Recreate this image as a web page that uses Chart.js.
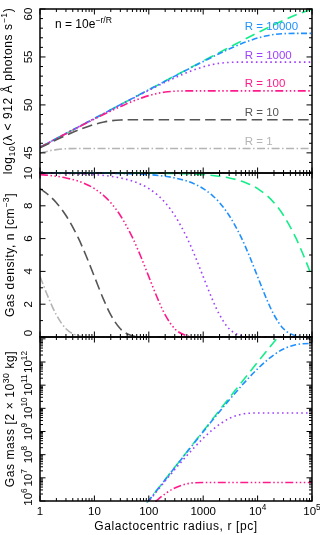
<!DOCTYPE html>
<html>
<head>
<meta charset="utf-8">
<script src="https://cdn.jsdelivr.net/npm/chart.js"></script>
<style>
  html, body { margin: 0; padding: 0; background: #fff; }
  #wrap { position: relative; width: 320px; height: 535px; overflow: hidden; }
  canvas { position: absolute; left: 0; }
</style>
</head>
<body>
<div id="wrap">
  <canvas id="photons" width="320" height="180" style="top:0"></canvas>
  <canvas id="density" width="320" height="178" style="top:166px"></canvas>
  <canvas id="mass" width="320" height="205" style="top:330px"></canvas>
</div>
<script>
// galactocentric radius, pc
const radius = [1, 1.5, 2, 3, 5, 7, 10, 15, 20, 30, 50, 70, 100, 150, 200, 300, 500, 700,
    1000, 1500, 2000, 3000, 5000, 7000, 1e4, 1.5e4, 2e4, 3e4, 5e4, 7e4, 1e5];

const scaleNames = ['R = 1', 'R = 10', 'R = 100', 'R = 1000', 'R = 10000', 'R = 100000'];

// log10 of ionising photons s^-1 enclosed within r
const photR1 = [44.97, 45.22, 45.34, 45.43, 45.46, 45.46, 45.46, 45.46, 45.46, 45.46, 45.46, 45.46,
    45.46, 45.46, 45.46, 45.46, 45.46, 45.46, 45.46, 45.46, 45.46, 45.46, 45.46, 45.46, 45.46, 45.46,
    45.46, 45.46, 45.46, 45.46, 45.46];
const photR10 = [45.52, 46.02, 46.36, 46.82, 47.37, 47.68, 47.97, 48.22, 48.34, 48.43, 48.46, 48.46,
    48.46, 48.46, 48.46, 48.46, 48.46, 48.46, 48.46, 48.46, 48.46, 48.46, 48.46, 48.46, 48.46, 48.46,
    48.46, 48.46, 48.46, 48.46, 48.46];
const photR100 = [45.58, 46.10, 46.48, 47.00, 47.65, 48.08, 48.52, 49.02, 49.36, 49.82, 50.37, 50.68,
    50.97, 51.22, 51.34, 51.43, 51.46, 51.46, 51.46, 51.46, 51.46, 51.46, 51.46, 51.46, 51.46, 51.46,
    51.46, 51.46, 51.46, 51.46, 51.46];
const photR1000 = [45.59, 46.11, 46.49, 47.02, 47.68, 48.12, 48.58, 49.10, 49.48, 50.00, 50.65, 51.08,
    51.52, 52.02, 52.36, 52.82, 53.37, 53.68, 53.97, 54.22, 54.34, 54.43, 54.46, 54.46, 54.46, 54.46,
    54.46, 54.46, 54.46, 54.46, 54.46];
const photR1e4 = [45.59, 46.11, 46.49, 47.02, 47.68, 48.12, 48.59, 49.11, 49.49, 50.02, 50.68, 51.12,
    51.58, 52.10, 52.48, 53.00, 53.65, 54.08, 54.52, 55.02, 55.36, 55.82, 56.37, 56.68, 56.97, 57.22,
    57.34, 57.43, 57.46, 57.46, 57.46];
const photR1e5 = [45.59, 46.11, 46.49, 47.02, 47.68, 48.12, 48.59, 49.11, 49.49, 50.02, 50.68, 51.12,
    51.59, 52.11, 52.49, 53.02, 53.68, 54.12, 54.58, 55.10, 55.48, 56.00, 56.65, 57.08, 57.52, 58.02,
    58.36, 58.82, 59.37, 59.68, 59.97];

// gas density, cm^-3
const densR1 = [3.68, 2.23, 1.35, 0.50, 0.07, 0.01, 0, 0, 0, 0, 0, 0, 0, 0, 0, 0, 0, 0, 0, 0, 0, 0,
    0, 0, 0, 0, 0, 0, 0, 0, 0];
const densR10 = [9.05, 8.61, 8.19, 7.41, 6.07, 4.97, 3.68, 2.23, 1.35, 0.50, 0.07, 0.01, 0, 0, 0, 0,
    0, 0, 0, 0, 0, 0, 0, 0, 0, 0, 0, 0, 0, 0, 0];
const densR100 = [9.90, 9.85, 9.80, 9.70, 9.51, 9.32, 9.05, 8.61, 8.19, 7.41, 6.07, 4.97, 3.68, 2.23,
    1.35, 0.50, 0.07, 0.01, 0, 0, 0, 0, 0, 0, 0, 0, 0, 0, 0, 0, 0];
const densR1000 = [9.99, 9.99, 9.98, 9.97, 9.95, 9.93, 9.90, 9.85, 9.80, 9.70, 9.51, 9.32, 9.05, 8.61,
    8.19, 7.41, 6.07, 4.97, 3.68, 2.23, 1.35, 0.50, 0.07, 0.01, 0, 0, 0, 0, 0, 0, 0];
const densR1e4 = [10, 10, 10, 10, 10, 10, 9.99, 9.99, 9.98, 9.97, 9.95, 9.93, 9.90, 9.85, 9.80, 9.70,
    9.51, 9.32, 9.05, 8.61, 8.19, 7.41, 6.07, 4.97, 3.68, 2.23, 1.35, 0.50, 0.07, 0.01, 0];
const densR1e5 = [10, 10, 10, 10, 10, 10, 10, 10, 10, 10, 10, 10, 9.99, 9.99, 9.98, 9.97, 9.95, 9.93,
    9.90, 9.85, 9.80, 9.70, 9.51, 9.32, 9.05, 8.61, 8.19, 7.41, 6.07, 4.97, 3.68];

// enclosed gas mass, units of 2e30 kg
const massR100 = [1.05, 3.5, 8.3, 27.8, 127, 343, 977, 3180, 7260, 2.28e4, 9.1e4, 2.16e5, 5.08e5,
    1.21e6, 2.05e6, 3.65e6, 5.53e6, 6.14e6, 6.31e6, 6.32e6, 6.32e6, 6.32e6, 6.32e6, 6.32e6, 6.32e6,
    6.32e6, 6.32e6, 6.32e6, 6.32e6, 6.32e6, 6.32e6];
const massR1000 = [1.05, 3.5, 8.4, 28.4, 131, 360, 1050, 3520, 8300, 2.78e4, 1.27e5, 3.43e5, 9.77e5,
    3.18e6, 7.26e6, 2.28e7, 9.1e7, 2.16e8, 5.08e8, 1.21e9, 2.05e9, 3.65e9, 5.53e9, 6.14e9, 6.31e9,
    6.32e9, 6.32e9, 6.32e9, 6.32e9, 6.32e9, 6.32e9];
const massR1e4 = [1.05, 3.56, 8.4, 28.4, 132, 361, 1050, 3520, 8400, 2.84e4, 1.31e5, 3.60e5, 1.05e6,
    3.52e6, 8.30e6, 2.78e7, 1.27e8, 3.43e8, 9.77e8, 3.18e9, 7.26e9, 2.28e10, 9.1e10, 2.16e11, 5.08e11,
    1.21e12, 2.05e12, 3.65e12, 5.53e12, 6.14e12, 6.31e12];
const massR1e5 = [1.05, 3.56, 8.43, 28.5, 132, 361, 1054, 3560, 8430, 2.85e4, 1.32e5, 3.61e5, 1.05e6,
    3.56e6, 8.4e6, 2.84e7, 1.32e8, 3.61e8, 1.05e9, 3.52e9, 8.40e9, 2.78e10, 1.27e11, 3.43e11, 9.77e11,
    3.18e12, 7.26e12, 2.28e13, 9.1e13, 2.16e14, 5.08e14];

// tick labels
const xTickValues = [1, 10, 100, 1000, 1e4, 1e5];
const xTickLabels = [[['1']], [['10']], [['100']], [['1000']], [['10'], ['4', 'sup']], [['10'], ['5', 'sup']]];
const photTicks = [45, 50, 55, 60];
const densTicks = [0, 2, 4, 6, 8, 10];
const massTicks = [1e6, 1e7, 1e8, 1e9, 1e10, 1e11, 1e12];
const massTickLabels = ['6', '7', '8', '9', '10', '11', '12'];

const styles = [
    { color: '#b4b4b4', dash: [8, 2.5, 1.5, 2.5] },
    { color: '#555555', dash: [10.5, 5] },
    { color: '#ff1a8c', dash: [8, 2.5, 1.5, 2.5, 1.5, 2.5, 1.5, 2.5] },
    { color: '#a040ff', dash: [1.6, 3.2] },
    { color: '#1e90ff', dash: [6, 2.5, 1.5, 2.5] },
    { color: '#14ee88', dash: [10, 5.5] },
];

const FONT = '"Liberation Sans", Arial, sans-serif';

function setFont(ctx, size) { ctx.font = size + 'px ' + FONT; }
function partSize(p, size) { return p[1] ? size * 0.72 : size; }

function richWidth(ctx, parts, size) {
    let w = 0;
    for (const p of parts) {
        setFont(ctx, partSize(p, size));
        w += ctx.measureText(p[0]).width;
    }
    return w;
}

function drawRich(ctx, parts, x, y, size, align) {
    let cx = align === 'center' ? x - richWidth(ctx, parts, size) / 2 : x;
    ctx.textBaseline = 'middle';
    ctx.textAlign = 'left';
    for (const p of parts) {
        setFont(ctx, partSize(p, size));
        const dy = p[1] === 'sup' ? -size * 0.4 : p[1] === 'sub' ? size * 0.3 : 0;
        ctx.fillText(p[0], cx, y + dy);
        cx += ctx.measureText(p[0]).width;
    }
}

function drawRotated(ctx, parts, x, y, size) {
    ctx.save();
    ctx.translate(x, y);
    ctx.rotate(-Math.PI / 2);
    drawRich(ctx, parts, 0, 0, size, 'center');
    ctx.restore();
}

// frame, inward ticks, rotated labels and titles, in the PGPLOT look
const framePlugin = {
    id: 'frame',
    afterDraw(chart, args, o) {
        const { ctx, chartArea: a } = chart;
        const xs = chart.scales.x, ys = chart.scales.y;
        ctx.save();
        ctx.strokeStyle = '#000';
        ctx.fillStyle = '#000';
        ctx.lineWidth = 1;
        ctx.beginPath();
        for (let d = 1; d <= 1e5; d *= 10) {
            for (let m = 1; m <= 9; m++) {
                const v = d * m;
                if (v > 1e5) break;
                const px = xs.getPixelForValue(v);
                const len = m === 1 ? 5.5 : 3;
                ctx.moveTo(px, a.top); ctx.lineTo(px, a.top + len);
                ctx.moveTo(px, a.bottom); ctx.lineTo(px, a.bottom - len);
            }
        }
        for (const t of o.yTicks) {
            const py = ys.getPixelForValue(t.v);
            if (py < a.top - 0.5 || py > a.bottom + 0.5) continue;
            const len = t.major ? 5.5 : 3;
            ctx.moveTo(a.left, py); ctx.lineTo(a.left + len, py);
            ctx.moveTo(a.right, py); ctx.lineTo(a.right - len, py);
        }
        ctx.stroke();
        ctx.lineWidth = 1.5;
        ctx.strokeRect(a.left, a.top, a.width, a.height);

        o.yLabels.forEach((l) => {
            let py = ys.getPixelForValue(l.v);
            py = Math.min(Math.max(py, a.top + (o.first ? 5 : -20)), a.bottom - 4);
            drawRotated(ctx, l.parts, 29, py, 11.5);
        });

        ctx.letterSpacing = '0.6px';
        drawRotated(ctx, o.title, o.titleX, (a.top + a.bottom) / 2, 12);
        ctx.letterSpacing = '0px';

        if (o.xLabels) {
            xTickValues.forEach((v, i) => {
                const px = xs.getPixelForValue(v);
                drawRich(ctx, xTickLabels[i], px, a.bottom + 11, 11.5, 'center');
            });
            ctx.letterSpacing = '0.6px';
            drawRich(ctx, [['Galactocentric radius, r [pc]']], (a.left + a.right) / 2, a.bottom + 26, 12, 'center');
            ctx.letterSpacing = '0px';
        }

        if (o.notes) {
            drawRich(ctx, [['n = 10e'], ['\u2212r/R', 'sup']], a.left + 15, a.top + 16, 12, 'left');
            o.notes.forEach((n) => {
                ctx.fillStyle = styles[n.i].color;
                drawRich(ctx, [[scaleNames[n.i]]], xs.getPixelForValue(5800), ys.getPixelForValue(n.y), 11.5, 'left');
            });
        }
        ctx.restore();
    },
};

function lineSets(series, idx) {
    return series.map((values, k) => ({
        data: radius.map((r, i) => ({ x: r, y: values[i] })),
        borderColor: styles[idx[k]].color,
        borderDash: styles[idx[k]].dash,
        borderWidth: 1.6,
        pointRadius: 0,
        fill: false,
        cubicInterpolationMode: 'monotone',
        clip: { left: 0, right: 0, top: 1.5, bottom: 1.5 },
    }));
}

function makePanel(id, datasets, yScale, padding, frame) {
    return new Chart(document.getElementById(id), {
        type: 'line',
        data: { datasets },
        options: {
            responsive: false,
            animation: false,
            devicePixelRatio: 1,
            layout: { padding },
            scales: {
                x: { type: 'logarithmic', min: 1, max: 1e5, display: false },
                y: Object.assign({ display: false }, yScale),
            },
            plugins: {
                legend: { display: false },
                tooltip: { enabled: false },
                frame,
            },
        },
        plugins: [framePlugin],
    });
}

function linearTicks(min, max, majors) {
    const out = [];
    for (let v = min; v <= max; v++) out.push({ v, major: majors.includes(v) });
    return out;
}

function logTicks() {
    const out = [];
    for (let e = 6; e <= 13; e++) {
        for (let m = 1; m <= 9; m++) out.push({ v: m * Math.pow(10, e), major: m === 1 });
    }
    return out;
}

makePanel('photons',
    lineSets([photR1, photR10, photR100, photR1000, photR1e4, photR1e5], [0, 1, 2, 3, 4, 5]),
    { min: 42.9, max: 60 },
    { left: 40, right: 8, top: 9, bottom: 7 },
    {
        first: true,
        yTicks: linearTicks(43, 60, photTicks),
        yLabels: photTicks.map((v) => ({ v, parts: [[String(v)]] })),
        title: [['log'], ['10', 'sub'], ['(\u03bb < 912 \u00c5 photons s'], ['\u22121', 'sup'], [')']],
        titleX: 9,
        notes: [
            { i: 4, y: 58.15 }, { i: 3, y: 55.15 }, { i: 2, y: 52.15 }, { i: 1, y: 49.15 }, { i: 0, y: 46.15 },
        ],
    });

makePanel('density',
    lineSets([densR1, densR10, densR100, densR1000, densR1e4, densR1e5], [0, 1, 2, 3, 4, 5]),
    { min: 0, max: 10 },
    { left: 40, right: 8, top: 7, bottom: 7 },
    {
        yTicks: linearTicks(0, 10, densTicks),
        yLabels: densTicks.map((v) => ({ v, parts: [[String(v)]] })),
        title: [['Gas density, n [cm'], ['\u22123', 'sup'], [']']],
        titleX: 11,
    });

makePanel('mass',
    lineSets([massR100, massR1000, massR1e4, massR1e5], [2, 3, 4, 5]),
    { type: 'logarithmic', min: 1e6, max: 1.2e13 },
    { left: 40, right: 8, top: 7, bottom: 34 },
    {
        yTicks: logTicks(),
        yLabels: massTicks.map((v, i) => ({ v, parts: [['10'], [massTickLabels[i], 'sup']] })),
        title: [['Gas mass [2 \u00d7 10'], ['30', 'sup'], [' kg]']],
        titleX: 11,
        xLabels: true,
    });
</script>
</body>
</html>
